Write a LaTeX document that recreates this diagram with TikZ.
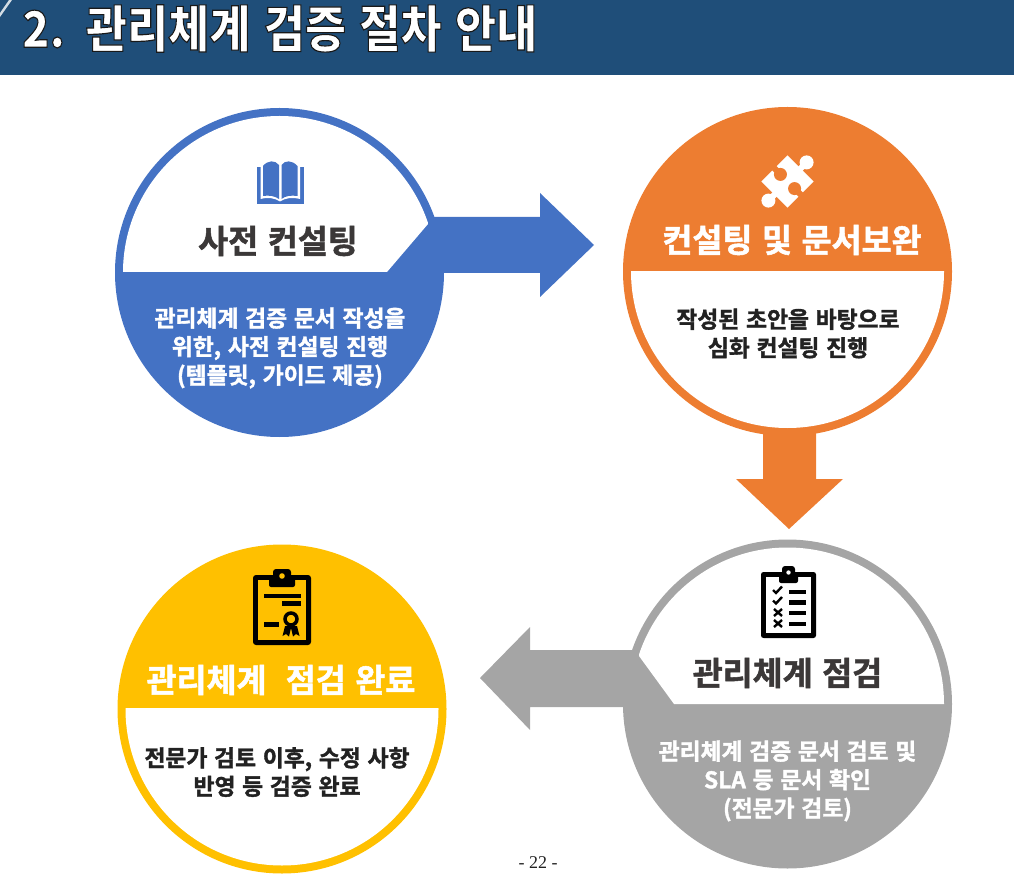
\documentclass[tikz,border=0pt]{standalone}
\usepackage{fontspec}
\usepackage{graphicx}
\setmainfont{Liberation Serif}
\newfontfamily\krfont[BoldFont=*,FakeBold=1.6,WordSpace=1.3]{Noto Sans CJK KR Bold}
\newfontfamily\krtitle[WordSpace=1.3]{Noto Sans CJK KR Black}
\definecolor{cblue}{HTML}{4472C4}
\definecolor{corange}{HTML}{ED7D31}
\definecolor{cgrey}{HTML}{A5A5A5}
\definecolor{cyellow}{HTML}{FFC000}
\definecolor{cheader}{HTML}{1F4E79}
\definecolor{cdark}{HTML}{3B3838}
\definecolor{cink}{HTML}{222222}
\tikzset{
  disc/.style={circle,inner sep=0pt,minimum size=329pt,fill=#1},
  headtext/.style={font=\krfont\fontsize{32.6}{36}\selectfont,inner sep=0pt,text=#1},
  bodytext/.style={font=\krfont\fontsize{22.8}{28.5}\selectfont,inner sep=0pt,align=center,text=#1},
  titletext/.style={font=\krtitle\fontsize{43}{48}\selectfont,inner sep=0pt,anchor=west,text=white},
  pagenum/.style={font=\fontsize{18}{20}\selectfont,inner sep=0pt,text=cink},
}
\begin{document}
\begin{tikzpicture}[x=1pt,y=-1pt]
\useasboundingbox (0,0) rectangle (1014,874);
% header
\fill[cheader] (0,0) rectangle (1014,75);
\fill[white!80!cheader] (0,17) -- (12,0) -- (9,0) -- (0,13) -- cycle;
\node[titletext] (title) at (22,28.5) {\scalebox{1.04}[1.17]{\special{pdf:code 2 Tr 0.1 0.1 0.1 RG 1 w}2.~\,관리체계~검증~절차~안내\special{pdf:code 0 Tr 0 w}}};
% arrows
\coordinate (c1) at (279.5,272.5);
\coordinate (c2) at (787.5,271.5);
\coordinate (c3) at (787.5,704);
\coordinate (c4) at (282,709);
\fill[cblue] (400,217) -- (540,217) -- (540,193) -- (594,245) -- (540,297) -- (540,273) -- (400,273) -- cycle;
\fill[corange] (763,400) -- (763,479) -- (736,479) -- (789,529) -- (843,479) -- (816,479) -- (816,400) -- cycle;
\fill[cgrey] (680,650) -- (530,650) -- (530,627) -- (480,678) -- (530,730) -- (530,707) -- (680,707) -- cycle;
% discs
\node[disc=cblue] (d1) at (c1) {};
\node[disc=corange] (d2) at (c2) {};
\node[disc=cgrey] (d3) at (c3) {};
\node[disc=cyellow] (d4) at (c4) {};
% white parts
\begin{scope}
\clip (100,100) -- (428,100) -- (428,224) -- (387,272) -- (100,272) -- cycle;
\fill[white] (c1) circle (156.5);
\end{scope}
\begin{scope}
\clip (600,272) rectangle (970,440);
\fill[white] (c2) circle (156.5);
\end{scope}
\begin{scope}
\clip (674,704) -- (639,656) -- (639,530) -- (970,530) -- (970,704) -- cycle;
\fill[white] (c3) circle (156.5);
\end{scope}
\begin{scope}
\clip (100,708) rectangle (460,874);
\fill[white] (c4) circle (156.5);
\end{scope}
% book icon
\fill[cblue] (257,167) -- (303.5,167) -- (303.5,204) -- (257,204) -- cycle;
\fill[white] (260.5,165) -- (300,165) -- (300,199) .. controls (292,197) and (285,198) .. (280,201.5) .. controls (275,198) and (268,197) .. (260.5,199) -- cycle;
\fill[cblue] (263,166) .. controls (268,160) and (275,160) .. (279,165) -- (279,199) .. controls (275,196) and (269,195) .. (263,196) -- cycle;
\fill[cblue] (281.5,165) .. controls (285,160) and (292,160) .. (297.5,166) -- (297.5,196) .. controls (291,195) and (285,196) .. (281.5,199) -- cycle;
% puzzle icon
\begin{scope}[shift={(787.5,181.5)},x={(0.7071pt,0.7071pt)},y={(0.7071pt,-0.7071pt)}]
\fill[white] (-18.5,-18.5) -- (18.5,-18.5) -- (18.5,18.5) -- (-18.5,18.5) -- cycle;
\fill[white] (18,-3) -- (24,-3) -- (24,3) -- (18,3) -- cycle;
\fill[white] (-18,-3) -- (-24,-3) -- (-24,3) -- (-18,3) -- cycle;
\fill[white] (27,0) circle[radius=7pt];
\fill[white] (-27,0) circle[radius=7pt];
\fill[corange] (-3,-19) -- (3,-19) -- (3,-12) -- (-3,-12) -- cycle;
\fill[corange] (-3,19) -- (3,19) -- (3,12) -- (-3,12) -- cycle;
\fill[corange] (0,-10) circle[radius=6.5pt];
\fill[corange] (0,10) circle[radius=6.5pt];
\end{scope}
% checklist icon
\fill[black,rounded corners=2.5pt] (761,572) rectangle (816,638);
\fill[white] (766,577) rectangle (811,633);
\fill[black,rounded corners=2pt] (779,572) rectangle (798,583);
\fill[black,rounded corners=3pt] (782,566) rectangle (795,578);
\fill[white] (788.5,572.5) circle (2.2);
\foreach \yy in {592,602.5,613,624}{\fill[black] (789,\yy-2.3) rectangle (806,\yy+2.3);}
\draw[black,line width=2.4pt] (773,590) -- (776,593) -- (782,586.5);
\draw[black,line width=2.4pt] (773,600.5) -- (776,603.5) -- (782,597);
\draw[black,line width=2.4pt] (774,609) -- (782,616) (782,609) -- (774,616);
\draw[black,line width=2.4pt] (774,620) -- (782,627) (782,620) -- (774,627);
% certificate icon
\fill[black,rounded corners=3pt] (253,575) rectangle (311,645);
\fill[cyellow] (258,580) rectangle (306,640);
\fill[black,rounded corners=2pt] (269,578) rectangle (295,587);
\fill[black,rounded corners=3pt] (273,569) rectangle (291,582);
\fill[cyellow] (282,576) circle (2.8);
\fill[black] (264,594) rectangle (301,598);
\fill[black] (282,601) rectangle (301,605.5);
\fill[black] (264,622) rectangle (279,626.5);
\draw[black,line width=3.5pt] (291,619) circle (6);
\fill[black] (285,626) -- (282.5,636) -- (286,634) -- (289,636.5) -- (291,628) -- (293,636.5) -- (296,634) -- (299.5,636) -- (297,626) -- cycle;
% headings
\node[headtext=cdark] (h1) at (278,241) {사전~컨설팅};
\node[headtext=white] (h2) at (792,240) {컨설팅~및~문서보완};
\node[headtext=cdark] (h3) at (787.5,673) {관리체계~점검};
\node[headtext=white] (h4) at (281,680) {관리체계~~점검~완료};
% bodies
\node[bodytext=white] (b1) at (280,348) {관리체계 검증 문서 작성을\\위한, 사전 컨설팅 진행\\(템플릿, 가이드 제공)};
\node[bodytext=cink] (b2) at (788,333.5) {작성된 초안을 바탕으로\\심화 컨설팅 진행};
\node[bodytext=white] (b3) at (787.5,781) {관리체계 검증 문서 검토 및\\SLA 등 문서 확인\\(전문가 검토)};
\node[bodytext=cink] (b4) at (277,772) {전문가 검토 이후, 수정 사항\\반영 등 검증 완료};
\node[pagenum] (pg) at (538,863) {- 22 -};
\end{tikzpicture}
\end{document}
